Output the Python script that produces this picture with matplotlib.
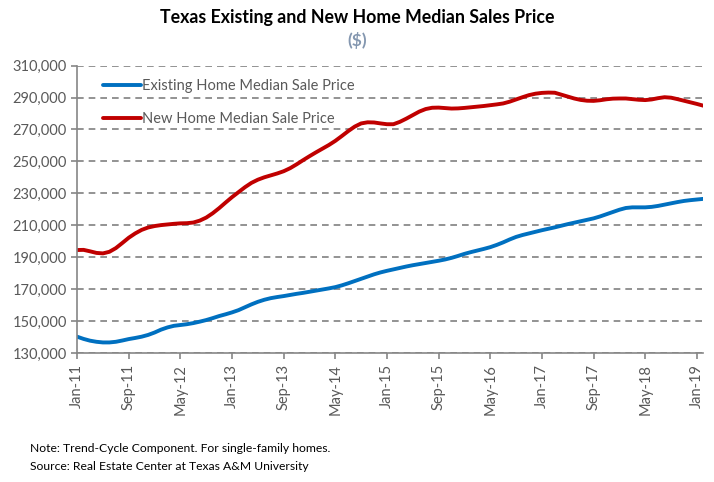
import numpy as np
import matplotlib.pyplot as plt
from matplotlib.ticker import FuncFormatter

plt.rcParams['font.family'] = ['Lato', 'DejaVu Sans']

# monthly trend-cycle values, Jan-11 .. Feb-19 (thousands of $)
existing = [140.4, 139.0, 137.9, 137.2, 136.8, 136.8, 137.2, 138.0, 138.9, 139.6,
            140.4, 141.5, 143.0, 144.8, 146.2, 147.2, 147.7, 148.2, 148.9, 149.8,
            150.8, 152.0, 153.3, 154.4, 155.6, 157.0, 158.8, 160.6, 162.2, 163.5,
            164.5, 165.2, 165.8, 166.5, 167.2, 167.8, 168.5, 169.2, 169.9, 170.6,
            171.4, 172.5, 173.8, 175.2, 176.6, 178.0, 179.4, 180.6, 181.6, 182.5,
            183.4, 184.3, 185.1, 185.8, 186.5, 187.2, 187.9, 188.7, 189.7, 190.9,
            192.2, 193.3, 194.3, 195.3, 196.4, 197.8, 199.4, 201.2, 202.8, 204.0,
            205.0, 206.0, 207.0, 207.9, 208.8, 209.8, 210.8, 211.7, 212.6, 213.5,
            214.4, 215.6, 217.0, 218.4, 219.8, 220.9, 221.3, 221.3, 221.3, 221.6,
            222.2, 223.0, 223.8, 224.6, 225.3, 225.8, 226.2, 226.6]
new_home = [194.6, 194.7, 193.8, 192.8, 192.5, 193.5, 195.8, 199.0, 202.3, 205.0,
            207.2, 208.7, 209.6, 210.2, 210.6, 211.0, 211.3, 211.4, 211.8, 213.0,
            214.9, 217.6, 220.8, 224.3, 227.7, 230.8, 233.9, 236.6, 238.6, 240.1,
            241.3, 242.5, 243.9, 245.8, 248.2, 250.8, 253.3, 255.7, 258.0, 260.3,
            262.9, 265.9, 269.0, 271.8, 273.8, 274.5, 274.4, 273.8, 273.3, 273.3,
            274.8, 276.8, 279.0, 281.2, 282.8, 283.6, 283.7, 283.4, 283.1, 283.2,
            283.5, 283.9, 284.3, 284.7, 285.2, 285.7, 286.3, 287.4, 288.8, 290.2,
            291.5, 292.4, 292.9, 293.1, 293.0, 291.8, 290.6, 289.4, 288.5, 288.0,
            287.9, 288.3, 288.9, 289.3, 289.4, 289.4, 289.0, 288.6, 288.4, 288.8,
            289.6, 290.2, 289.9, 289.0, 288.0, 287.0, 286.0, 284.9]
tick_labels = ['Jan-11', 'Sep-11', 'May-12', 'Jan-13', 'Sep-13', 'May-14', 'Jan-15',
               'Sep-15', 'May-16', 'Jan-17', 'Sep-17', 'May-18', 'Jan-19']

x = np.arange(len(existing))
fig = plt.figure(figsize=(7.14, 4.82), dpi=100)
ax = fig.add_axes([0.108, 0.267, 0.877, 0.597])

ax.plot(x, np.array(existing) * 1000, color='#0070C0', lw=2.8,
        label='Existing Home Median Sale Price', solid_capstyle='round')
ax.plot(x, np.array(new_home) * 1000, color='#C00000', lw=2.8,
        label='New Home Median Sale Price', solid_capstyle='round')

ax.set_xlim(0, len(x) - 1)
ax.set_ylim(130000, 310000)
ax.set_yticks(np.arange(130000, 310001, 20000))
ax.yaxis.set_major_formatter(FuncFormatter(lambda v, p: f'{int(v):,}'))
ax.set_xticks(np.arange(0, len(x), 8))
ax.set_xticklabels(tick_labels, rotation=90)
ax.grid(axis='y', color='#808080', ls=(0, (4, 3)), lw=1.2)
ax.set_axisbelow(True)
for s in ['top', 'right']:
    ax.spines[s].set_visible(False)
for s in ['left', 'bottom']:
    ax.spines[s].set_color('#868686')
    ax.spines[s].set_linewidth(1.2)
ax.tick_params(colors='#868686', labelcolor='#595959', labelsize=10.5, length=4, width=1.2)

leg = ax.legend(loc='upper left', frameon=False, fontsize=10.5, handlelength=2.6,
                handletextpad=0.1, labelspacing=1.3, bbox_to_anchor=(0.02, 1.0))
for t in leg.get_texts():
    t.set_color('#595959')

fig.text(0.5, 0.963, 'Texas Existing and New Home Median Sales Price', ha='center',
         va='center', fontsize=12.8, fontweight='bold')
fig.text(0.5, 0.917, '($)', ha='center', va='center', fontsize=12.5,
         fontweight='bold', color='#8497B0')
fig.text(0.042, 0.07, 'Note: Trend-Cycle Component. For single-family homes.',
         fontsize=8.7, va='center')
fig.text(0.042, 0.033, 'Source: Real Estate Center at Texas A&M University',
         fontsize=8.7, va='center')

fig.savefig('out.png', dpi=100)
